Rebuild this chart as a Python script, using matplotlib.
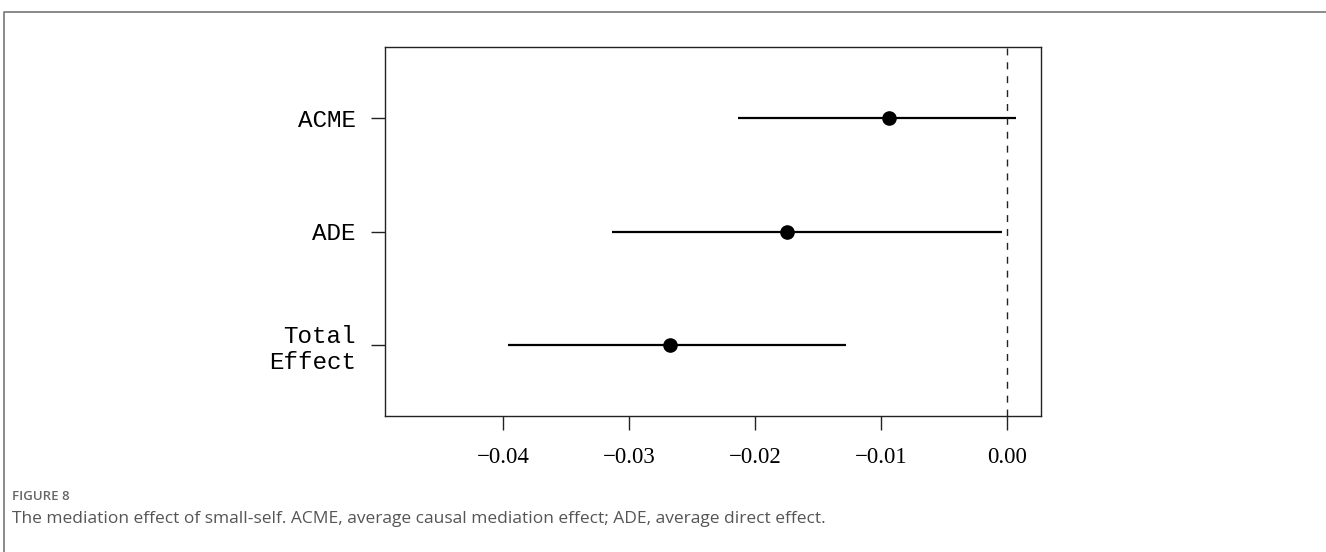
import matplotlib
matplotlib.use('Agg')
from matplotlib import pyplot as plt
from matplotlib.lines import Line2D

# mediation estimates
labels = ['ACME', 'ADE', 'Total\nEffect']
estimate = [-0.0094, -0.0175, -0.0268]
ci_low = [-0.0214, -0.0314, -0.0396]
ci_high = [0.0007, -0.0004, -0.0128]
xticks = [-0.04, -0.03, -0.02, -0.01, 0.00]
xticklabels = ['\u22120.04', '\u22120.03', '\u22120.02', '\u22120.01', '0.00']

fig = plt.figure(figsize=(13.26, 5.52), dpi=100)
ax = fig.add_axes([385/1326, 136/552, 656/1326, 369/552])

ypos = [3, 2, 1]
for y, lo, hi, est in zip(ypos, ci_low, ci_high, estimate):
    ax.plot([lo, hi], [y, y], color='black', lw=1.6, solid_capstyle='butt')
    ax.plot(est, y, 'o', color='black', ms=9.5)

ax.axvline(0, color='#222222', lw=1.0, ls=(0, (5, 5)))

ax.set_xlim(-0.0494, 0.0027)
ax.set_ylim(0.38, 3.62)

ax.set_xticks(xticks)
ax.set_xticklabels(xticklabels, family='Liberation Serif', fontsize=16.5)
ax.set_yticks(ypos)
ax.set_yticklabels(labels, family='Liberation Mono', fontsize=17.5, ha='right',
                   multialignment='right')
ax.tick_params(axis='x', length=10, width=1.0, pad=12, color='#222222')
ax.tick_params(axis='y', length=10, width=1.0, pad=11, color='#222222')
for s in ax.spines.values():
    s.set_linewidth(1.0)
    s.set_color('#222222')

# outer frame of the figure panel (top and left only)
fig.add_artist(Line2D([4/1326, 4/1326, 1], [0, 1 - 12/552, 1 - 12/552],
                      transform=fig.transFigure, color='#777777', lw=1.2))

fig.text(12/1326, 1 - 496/552, 'FIGURE 8', family='Open Sans', fontsize=9.5,
         fontweight='semibold', color='#666666', va='center')
fig.text(12/1326, 1 - 519/552,
         'The mediation effect of small-self. ACME, average causal mediation effect; ADE, average direct effect.',
         family='Open Sans', fontsize=12.5, color='#555555', va='center')

fig.savefig('out.png', dpi=100)
